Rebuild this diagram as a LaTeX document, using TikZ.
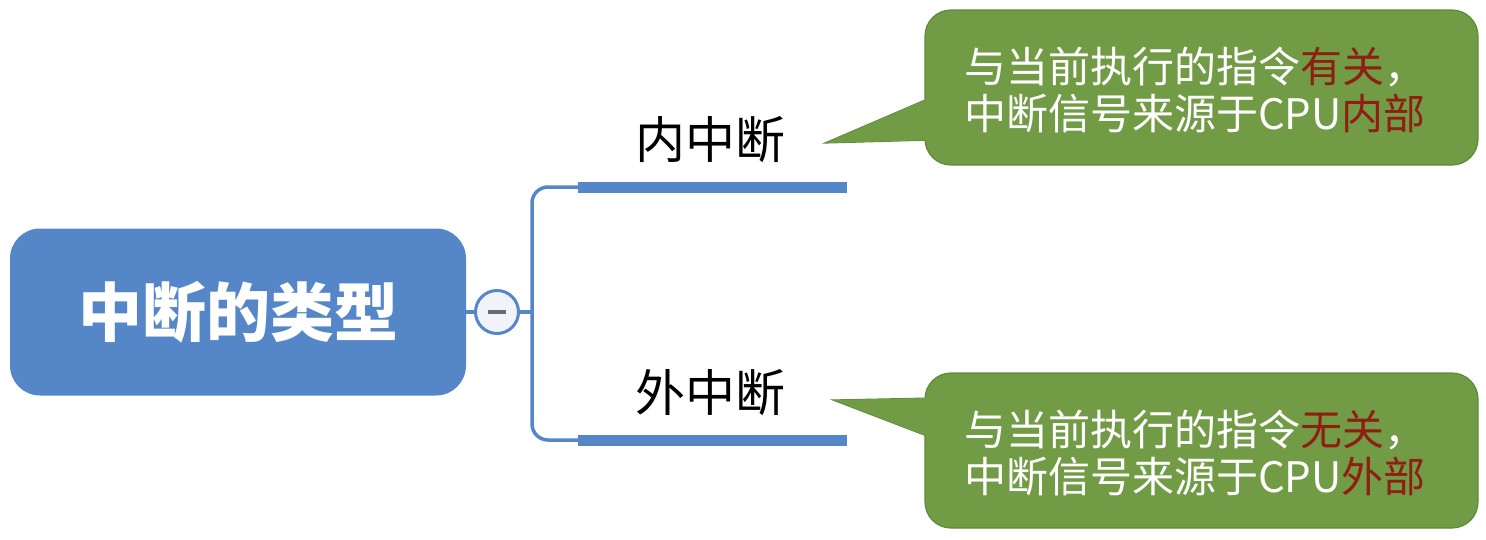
\documentclass[tikz,border=0pt]{standalone}
\usepackage{fontspec}
\setmainfont{Noto Sans CJK SC}
\definecolor{mblue}{HTML}{5586C8}
\definecolor{cgreen}{HTML}{719B45}
\definecolor{cgreenline}{HTML}{5E8A3A}
\definecolor{cred}{HTML}{8E1F12}
\definecolor{togglefill}{HTML}{F2F3F8}
\begin{document}
\begin{tikzpicture}[x=1pt,y=-1pt,
  rootbox/.style={fill=mblue, rounded corners=30pt, minimum width=456pt, minimum height=167pt,
    text=white, font=\fontsize{64}{70}\selectfont\bfseries, inner sep=0pt},
  togglebtn/.style={circle, draw=mblue, line width=3pt, fill=togglefill, minimum size=43pt, inner sep=0pt},
  conn/.style={draw=mblue, line width=3.5pt},
  bar/.style={draw=mblue, line width=11pt},
  branchlabel/.style={font=\fontsize{50}{54}\selectfont, text=black, inner sep=0pt},
  callbox/.style={fill=cgreen, draw=cgreenline, line width=1.2pt, rounded corners=26pt,
    minimum width=553pt, minimum height=155pt, inner sep=0pt},
  calltext/.style={text=white, align=center, font=\fontsize{42}{47}\selectfont, inner sep=0pt},
  ptr/.style={fill=cgreen},
  ptrline/.style={fill=cgreen, draw=cgreenline, line width=1.2pt, line join=miter}
]
\useasboundingbox (0,0) rectangle (1486,539);

% root
\node[rootbox] (root) at (238,312) {中断的类型};
\node[togglebtn] (toggle) at (497,312) {};
\draw[draw=gray!85!black, line width=4pt] ([xshift=-9pt]toggle.center) -- ([xshift=9pt]toggle.center);

\coordinate (fork) at (532,312);
\coordinate (b1s) at (578,187);
\coordinate (b1e) at (847,187);
\coordinate (b2s) at (578,440);
\coordinate (b2e) at (847,440);

\draw[conn] (root.east) -- (toggle.west);
\draw[conn] (toggle.east) -- (fork);
\draw[conn, rounded corners=16pt] (fork) |- ([xshift=2pt]b1s);
\draw[conn, rounded corners=16pt] (fork) |- ([xshift=2pt]b2s);
\draw[bar] (b1s) -- (b1e);
\draw[bar] (b2s) -- (b2e);

\node[branchlabel] (l1) at (710,140) {内中断};
\node[branchlabel] (l2) at (710,393) {外中断};

% top callout
\coordinate (t1) at (825,143);
\coordinate (t1a) at (932,97);
\coordinate (t1b) at (932,140);
\draw[ptrline] (t1) -- (t1a) -- (t1b) -- cycle;
\node[callbox] (c1) at (1201.5,87.5) {};
\fill[ptr] ([xshift=1.2pt]t1) -- (t1a) -- (t1b) -- cycle;
\node[calltext] (c1t) at (1195,90) {与当前执行的指令{\color{cred}有关}，\\中断信号来源于CPU{\color{cred}内部}};

% bottom callout
\coordinate (t2) at (833,400);
\coordinate (t2a) at (932,398);
\coordinate (t2b) at (932,438);
\draw[ptrline] (t2) -- (t2a) -- (t2b) -- cycle;
\node[callbox] (c2) at (1201.5,450.5) {};
\fill[ptr] ([xshift=1.2pt]t2) -- (t2a) -- (t2b) -- cycle;
\node[calltext] (c2t) at (1195,453) {与当前执行的指令{\color{cred}无关}，\\中断信号来源于CPU{\color{cred}外部}};
\end{tikzpicture}
\end{document}
